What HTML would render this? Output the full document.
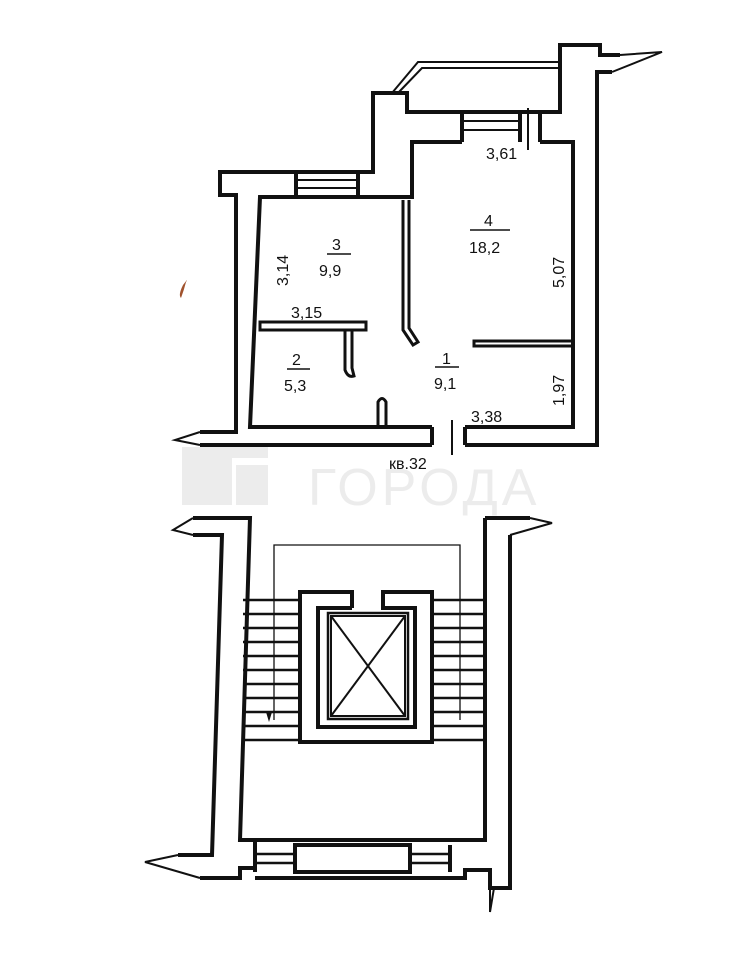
<!DOCTYPE html>
<html><head><meta charset="utf-8"><style>
html,body{margin:0;padding:0;background:#fff;}
svg{display:block}
text{font-family:"Liberation Sans",sans-serif;fill:#111;}
</style></head><body>
<svg width="753" height="960" viewBox="0 0 753 960" xmlns="http://www.w3.org/2000/svg">
<g fill="#ececec">
<polygon points="182,447 268,447 268,458 232,458 232,505 182,505"/>
<rect x="236" y="465" width="32" height="40"/>
</g>
<text x="308" y="505" font-size="52" style="fill:#ececec" letter-spacing="4">ГОРОДА</text>

<g fill="none" stroke="#111" stroke-width="4" stroke-linejoin="miter">
<polyline points="200,432 236,432 236,195 220,195 220,172 373,172 373,93 407,93 407,112 560,112 560,45 600,45 600,55 620,55"/>
<polyline points="612,72 597,72 597,445 465,445"/>
<polyline points="432,445 236,445 200,445"/>
<polyline points="432,427 250,427 260,197 412,197 412,142 462,142"/>
<polyline points="540,142 573,142 573,427 465,427"/>
<line x1="465" y1="427" x2="465" y2="445"/>
<line x1="432" y1="427" x2="432" y2="445"/>
<line x1="296" y1="172" x2="296" y2="197"/>
<line x1="358" y1="172" x2="358" y2="197"/>
<line x1="462" y1="112" x2="462" y2="142"/>
<line x1="520" y1="112" x2="520" y2="142"/>
<line x1="540" y1="112" x2="540" y2="142"/>
<polygon points="260,322 366,322 366,330 260,330" stroke-width="3"/>
<path d="M345 330 L345 370 Q348 378 354 376 L352 368 L352 330" stroke-width="3"/>
<path d="M403 200 L403 330 L413 345 L418 342 L409 328 L409 200" stroke-width="3"/>
<rect x="474" y="341" width="99" height="5" stroke-width="3"/>
<path d="M378 427 L378 402 Q382 395 386 402 L386 427" stroke-width="3"/>
</g>
<g stroke="#111" stroke-width="2" fill="none">
<line x1="296" y1="180" x2="358" y2="180"/><line x1="296" y1="188" x2="358" y2="188"/>
<line x1="462" y1="121" x2="520" y2="121"/><line x1="462" y1="130" x2="520" y2="130"/>
<line x1="528" y1="108" x2="528" y2="150"/>
<line x1="452" y1="420" x2="452" y2="455"/>
<polyline points="392,93 418,62 560,62"/><polyline points="398,93 422,68 560,68"/>
<polyline points="620,55 662,52 612,72"/>
<polyline points="200,432 175,440 200,445"/>
</g>
<g stroke="#111" stroke-width="1.5">
<line x1="327" y1="254" x2="351" y2="254"/>
<line x1="470" y1="230" x2="510" y2="230"/>
<line x1="287" y1="369" x2="310" y2="369"/>
<line x1="435" y1="367" x2="459" y2="367"/>
</g>
<g font-size="16">
<text x="486" y="159">3,61</text>
<text x="332" y="250">3</text><text x="319" y="276">9,9</text>
<text x="484" y="226">4</text><text x="469" y="253">18,2</text>
<text x="291" y="318">3,15</text>
<text x="292" y="365">2</text><text x="284" y="391">5,3</text>
<text x="442" y="364">1</text><text x="434" y="389">9,1</text>
<text x="471" y="422">3,38</text>
<text x="389" y="469">кв.32</text>
<text transform="translate(288,286) rotate(-90)">3,14</text>
<text transform="translate(564,288) rotate(-90)">5,07</text>
<text transform="translate(564,406) rotate(-90)">1,97</text>
</g>

<g fill="none" stroke="#111" stroke-width="4">
<polyline points="193,518 250,518 240,840 255,840 255,868 240,868 240,878 200,878"/>
<polyline points="193,535 222,535 212,855 178,855"/>
<polyline points="485,518 530,518"/>
<polyline points="510,535 510,888 490,888 490,870 465,870 465,878 255,878"/>
<polyline points="485,518 485,840 240,840"/>
<line x1="255" y1="845" x2="255" y2="872"/>
<line x1="295" y1="845" x2="295" y2="872"/>
<line x1="410" y1="845" x2="410" y2="872"/>
<line x1="450" y1="845" x2="450" y2="872"/>
<rect x="295" y="845" width="115" height="27"/>
<polyline points="352,608 352,592 300,592 300,742 432,742 432,592 383,592 383,608 415,608 415,727 318,727 318,608 352,608"/>
<rect x="328" y="613" width="80" height="106" stroke-width="2.5"/>
</g>
<g stroke="#111" stroke-width="2" fill="none">
<rect x="331" y="616" width="74" height="100"/>
<line x1="331" y1="616" x2="405" y2="716"/><line x1="405" y1="616" x2="331" y2="716"/>
<polyline points="274,720 274,545 460,545 460,720" stroke-width="1.3"/>
<polyline points="193,518 173,530 193,535"/>
<polyline points="530,518 552,523 510,535"/>
<polyline points="178,855 145,862 200,878"/>
<polyline points="490,888 490,912 494,888"/>
</g>
<g stroke="#111" stroke-width="2.5">
<line x1="243" y1="600" x2="300" y2="600"/><line x1="243" y1="614" x2="300" y2="614"/>
<line x1="243" y1="628" x2="300" y2="628"/><line x1="243" y1="642" x2="300" y2="642"/>
<line x1="243" y1="656" x2="300" y2="656"/><line x1="243" y1="670" x2="300" y2="670"/>
<line x1="243" y1="684" x2="300" y2="684"/><line x1="243" y1="698" x2="300" y2="698"/>
<line x1="243" y1="712" x2="300" y2="712"/><line x1="243" y1="726" x2="300" y2="726"/>
<line x1="243" y1="740" x2="300" y2="740"/>
<line x1="432" y1="600" x2="485" y2="600"/><line x1="432" y1="614" x2="485" y2="614"/>
<line x1="432" y1="628" x2="485" y2="628"/><line x1="432" y1="642" x2="485" y2="642"/>
<line x1="432" y1="656" x2="485" y2="656"/><line x1="432" y1="670" x2="485" y2="670"/>
<line x1="432" y1="684" x2="485" y2="684"/><line x1="432" y1="698" x2="485" y2="698"/>
<line x1="432" y1="712" x2="485" y2="712"/><line x1="432" y1="726" x2="485" y2="726"/>
<line x1="432" y1="740" x2="485" y2="740"/>
<line x1="255" y1="854" x2="295" y2="854"/><line x1="255" y1="863" x2="295" y2="863"/>
<line x1="410" y1="854" x2="450" y2="854"/><line x1="410" y1="863" x2="450" y2="863"/>
</g>
<polygon points="266,712 272,712 269,722" fill="#111"/>
<path d="M183 285 q6 -8 3 -3 q-2 8 -5 16 q-3 -3 2 -13z" fill="#a0522d"/>
</svg>
</body></html>
